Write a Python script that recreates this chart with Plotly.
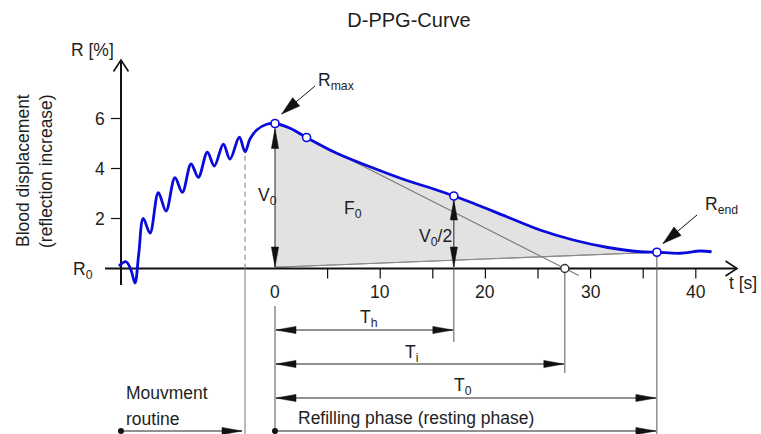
import math
import plotly.graph_objects as go

# ---------------- data ----------------
curve_t = [-14.83, -14.16, -13.70, -13.31, -12.95, -12.52, -11.88, -11.09, -10.36, -9.51,
           -8.81, -7.98, -7.29, -6.43, -5.77, -4.91, -4.28, -3.39, -2.85, -2.38,
           -1.74, -0.79, 0.0, 1.43, 3.0, 5.87, 9.03, 12.2, 15.37, 17.0,
           18.85, 22.03, 25.19, 28.36, 31.53, 34.7, 36.3, 38.5, 40.4, 41.5]
curve_R = [0.10, 0.27, -0.05, -0.58, 0.60, 2.00, 1.42, 3.03, 2.30, 3.63,
           3.05, 4.18, 3.65, 4.65, 4.10, 4.97, 4.38, 5.25, 4.67, 5.18,
           5.54, 5.77, 5.80, 5.61, 5.24, 4.61, 4.07, 3.57, 3.14, 2.90,
           2.61, 2.07, 1.54, 1.14, 0.85, 0.67, 0.65, 0.61, 0.70, 0.67]

x_ticks = [0, 10, 20, 30, 40]
x_tick_marks = [5, 10, 15, 20, 25, 30, 35, 40]
y_ticks = [2, 4, 6]

T_AXIS = -14.64            # time where the R axis stands
T_MOVE_END = -2.85         # end of the movement routine
R_MOVE_END = 4.67
T_MAX, R_MAX = 0.0, 5.80   # R max
T_TAN, R_TAN = 3.0, 5.24   # tangent point
T_H, R_HALF = 17.0, 2.90   # half refilling point
T_I = 27.55                # tangent intercept
T_0, R_END = 36.3, 0.65    # R end
R_BASE0 = 0.05             # baseline start at t = 0

# ---------------- pixel <-> data helpers (layout only) ----------------
W, H = 761, 434
X0PX, SX = 275.0, 10.52
Y0PX, SY = 268.5, 25.0


def P(t, r):
    return X0PX + SX * t, Y0PX - SY * r


def D(x, y):
    return (x - X0PX) / SX, (Y0PX - y) / SY


def dy(px):
    return px / SY


def dx(px):
    return px / SX


fig = go.Figure()


def line(ts, rs, color="#222", width=1, dash=None):
    fig.add_trace(go.Scatter(x=ts, y=rs, mode="lines",
                             line=dict(color=color, width=width, dash=dash),
                             hoverinfo="skip", showlegend=False))


def head(tip, frm, L=20, hw=3.6, color="#111"):
    tx, ty = P(*tip)
    fx, fy = P(*frm)
    ux, uy = tx - fx, ty - fy
    n = math.hypot(ux, uy)
    ux, uy = ux / n, uy / n
    bx, by = tx - L * ux, ty - L * uy
    nx, ny = -uy, ux
    pts = [(tx, ty), (bx + hw * nx, by + hw * ny), (bx - hw * nx, by - hw * ny), (tx, ty)]
    dpts = [D(x, y) for x, y in pts]
    fig.add_trace(go.Scatter(x=[p[0] for p in dpts], y=[p[1] for p in dpts],
                             mode="lines", fill="toself", fillcolor=color,
                             line=dict(color=color, width=0.5),
                             hoverinfo="skip", showlegend=False))


def dim_arrow(a, b, both=True):
    line([a[0], b[0]], [a[1], b[1]], color="#222", width=1)
    head(b, a)
    if both:
        head(a, b)


# ---------------- shaded area F0 ----------------
sel = [i for i, t in enumerate(curve_t) if T_MAX <= t <= T_0]
fig.add_trace(go.Scatter(x=[T_MAX, T_0], y=[R_BASE0, R_END], mode="lines",
                         line=dict(color="#8a8a8a", width=1),
                         hoverinfo="skip", showlegend=False))
fig.add_trace(go.Scatter(x=[curve_t[i] for i in sel], y=[curve_R[i] for i in sel],
                         mode="lines", line=dict(color="rgba(0,0,0,0)", width=0, shape="spline"),
                         fill="tonexty", fillcolor="#e2e2e2",
                         hoverinfo="skip", showlegend=False))
line([T_0, T_MAX], [R_END, R_BASE0], color="#8a8a8a", width=1.2)

# tangent line
slope = (0 - R_TAN) / (T_I - T_TAN)
t_ext = T_I + dx(14)
line([T_TAN, t_ext], [R_TAN, R_TAN + slope * (t_ext - T_TAN)], color="#777", width=1.1)

# ---------------- axes ----------------
x_l, _ = D(105, 0)
x_r, _ = D(737, 0)
line([x_l, x_r], [0, 0], color="#111", width=2)
line([x_r - dx(11.5), x_r, x_r - dx(11.5)], [dy(7.5), 0, -dy(7.5)], color="#111", width=1.6)
_, y_b = D(0, 285)
_, y_t = D(0, 60)
line([T_AXIS, T_AXIS], [y_b, y_t], color="#111", width=2)
line([T_AXIS - dx(7.5), T_AXIS, T_AXIS + dx(7.5)], [y_t - dy(11.5), y_t, y_t - dy(11.5)],
     color="#111", width=1.6)
for v in y_ticks:
    line([T_AXIS - dx(10), T_AXIS], [v, v], color="#111", width=1.2)
for v in x_tick_marks:
    line([v, v], [0, -dy(10)], color="#111", width=1.2)

# ---------------- guide lines ----------------
line([T_MOVE_END, T_MOVE_END], [R_MOVE_END - dy(4), 0], color="#888", width=1.1, dash="5px,4px")
line([T_MOVE_END, T_MOVE_END], [0, D(0, 434)[1]], color="#777", width=1)
line([T_MAX, T_MAX], [D(0, 306)[1], D(0, 434)[1]], color="#555", width=1)
line([T_H, T_H], [0, D(0, 342)[1]], color="#555", width=1)
line([T_I, T_I], [0, D(0, 373)[1]], color="#555", width=1)
line([T_0, T_0], [R_END, D(0, 434)[1]], color="#555", width=1)

# V0 and V0/2
dim_arrow((T_MAX, R_MAX - dy(5)), (T_MAX, dy(1.5)))
dim_arrow((T_H, R_HALF - dy(4)), (T_H, dy(1.5)))

# horizontal time arrows
r_th = D(0, 330)[1]
r_ti = D(0, 364)[1]
r_t0 = D(0, 398)[1]
r_ph = D(0, 431)[1]
dim_arrow((T_MAX + dx(1), r_th), (T_H - dx(1), r_th))
dim_arrow((T_MAX + dx(1), r_ti), (T_I - dx(1), r_ti))
dim_arrow((T_MAX + dx(1), r_t0), (T_0 - dx(1), r_t0))
dim_arrow((T_MAX, r_ph), (T_0 - dx(1), r_ph), both=False)
dim_arrow((T_AXIS, r_ph), (T_MOVE_END - dx(3), r_ph), both=False)
fig.add_trace(go.Scatter(x=[T_MAX, T_AXIS], y=[r_ph, r_ph], mode="markers",
                         marker=dict(color="#111", size=6),
                         hoverinfo="skip", showlegend=False))

# pointer arrows R max / R end
a0 = D(315, 86)
a1 = D(281.7, 114)
line([a0[0], a1[0]], [a0[1], a1[1]], color="#111", width=1)
head(a1, a0, L=19, hw=5.5)
b0 = D(697, 215)
b1 = D(663, 243.5)
line([b0[0], b1[0]], [b0[1], b1[1]], color="#111", width=1)
head(b1, b0, L=19, hw=5.5)

# ---------------- curve ----------------
fig.add_trace(go.Scatter(x=curve_t, y=curve_R, mode="lines",
                         line=dict(color="#0a0adc", width=2.8, shape="spline", smoothing=1.0),
                         hoverinfo="skip", showlegend=False))
fig.add_trace(go.Scatter(x=[T_MAX, T_TAN, T_H, T_0], y=[R_MAX, R_TAN, R_HALF, R_END],
                         mode="markers",
                         marker=dict(color="white", size=8, line=dict(color="#0a0adc", width=1.6)),
                         hoverinfo="skip", showlegend=False))
fig.add_trace(go.Scatter(x=[T_I], y=[0], mode="markers",
                         marker=dict(color="white", size=8, line=dict(color="#333", width=1.4)),
                         hoverinfo="skip", showlegend=False))

# ---------------- text ----------------
FONT = "Liberation Sans, Arial, Helvetica, sans-serif"
TXT = "#1e1e1e"
FS = 17.5
ann = []


def text(s, x, y, size=FS, xanchor="center", yanchor="middle", angle=0):
    t, r = D(x, y)
    ann.append(dict(text=s, x=t, y=r, xref="x", yref="y", showarrow=False,
                    xanchor=xanchor, yanchor=yanchor, textangle=angle,
                    font=dict(family=FONT, size=size, color=TXT)))


for v in x_ticks:
    ann.append(dict(text=str(v), x=v, y=-dy(23), xref="x", yref="y", showarrow=False,
                    xanchor="center", yanchor="middle",
                    font=dict(family=FONT, size=FS, color=TXT)))
for v in y_ticks:
    ann.append(dict(text=str(v), x=T_AXIS - dx(14), y=v, xref="x", yref="y", showarrow=False,
                    xanchor="right", yanchor="middle",
                    font=dict(family=FONT, size=FS, color=TXT)))

text("R [%]", 92, 50)
text("t [s]", 743, 283)
text("R<sub>0</sub>", 71, 270, xanchor="left")
text("R<sub>max</sub>", 316, 81, xanchor="left")
text("R<sub>end</sub>", 703, 205, xanchor="left")
text("V<sub>0</sub>", 256, 196, xanchor="left")
text("F<sub>0</sub>", 342, 209, xanchor="left")
text("V<sub>0</sub>/2", 417, 237, xanchor="left")
text("T<sub>h</sub>", 358, 318, xanchor="left")
text("T<sub>i</sub>", 403, 353, xanchor="left")
text("T<sub>0</sub>", 452, 386, xanchor="left")
text("Mouvment", 124, 393, xanchor="left")
text("routine", 124, 419, xanchor="left")
text("Refilling phase (resting phase)", 416, 418)
text("Blood displacement", 23, 171, angle=-90)
text("(reflection increase)", 46, 171, angle=-90)

fig.update_layout(
    width=W, height=H,
    margin=dict(l=0, r=0, t=0, b=0),
    paper_bgcolor="white", plot_bgcolor="white",
    title=dict(text="D-PPG-Curve", x=409 / W, y=1 - 20 / H, xanchor="center", yanchor="middle",
               font=dict(family=FONT, size=20, color=TXT)),
    xaxis=dict(range=[D(0, 0)[0], D(W, 0)[0]], visible=False, fixedrange=True),
    yaxis=dict(range=[D(0, H)[1], D(0, 0)[1]], visible=False, fixedrange=True),
    annotations=ann,
    showlegend=False,
)

fig.write_html("out.html",
               config={"displayModeBar": False},
               post_script="document.body.style.margin='0';document.body.style.overflow='hidden';")
